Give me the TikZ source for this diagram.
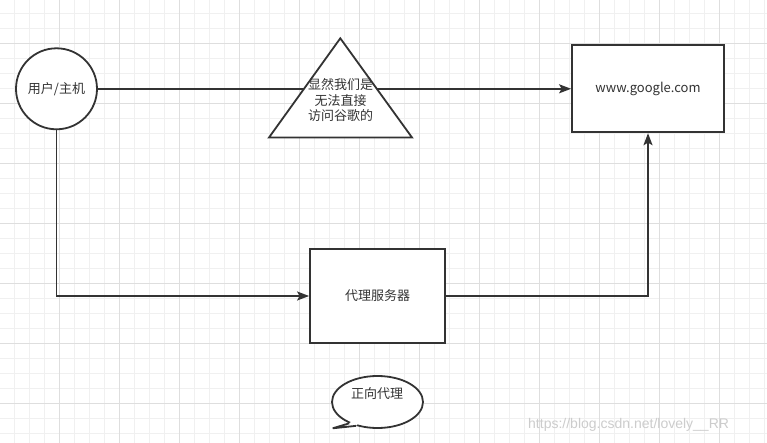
\documentclass[tikz,border=0pt]{standalone}
\usepackage{fontspec}
\setmainfont{Noto Sans CJK SC}
\newfontfamily\wmfont{Liberation Sans}
\usetikzlibrary{arrows.meta,shapes.geometric}
\definecolor{ink}{HTML}{333333}

\begin{document}
\begin{tikzpicture}[x=1pt,y=-1pt,
  font=\fontsize{13}{15.5}\selectfont,
  minorgrid/.style={draw=black!6,line width=0.8pt},
  majorgrid/.style={draw=black!13,line width=0.8pt},
  box/.style={draw=ink,fill=white,line width=1.8pt,text=ink,inner sep=0pt,align=center},
  outline/.style={draw=ink,fill=white,line width=1.8pt,line join=miter},
  flow/.style={-{Stealth[length=12pt,width=9pt,inset=2.5pt]},draw=ink,line width=1.6pt},
  lbl/.style={text=ink,align=center,inner sep=0pt}]
\useasboundingbox[fill=white] (0,0) rectangle (767,443);
\foreach \gx in {0,...,51} \draw[minorgrid] ({-0.7+15*\gx},0) -- ({-0.7+15*\gx},443);
\foreach \gy in {0,...,28} \draw[minorgrid] (0,{13.3+15*\gy}) -- (767,{13.3+15*\gy});
\foreach \gx in {0,...,11} \draw[majorgrid] ({59.3+60*\gx},0) -- ({59.3+60*\gx},443);
\foreach \gy in {0,...,6} \draw[majorgrid] (0,{43.3+60*\gy}) -- (767,{43.3+60*\gy});

\node[box,circle,minimum size=81pt] (user) at (56.5,88.8) {用户/主机};
\node[box,minimum width=152pt,minimum height=87pt] (google) at (648,88.8) {www.google.com};
\node[box,minimum width=135pt,minimum height=94pt] (proxy) at (377.5,296) {代理服务器};

\draw[flow] (user.east) -- (google.west);
\draw[flow] (user.south) |- (proxy.west);
\draw[flow] (proxy.east) -| (google.south);

\coordinate (apex) at (340.3,38.3);
\coordinate (baseL) at (269,137.5);
\coordinate (baseR) at (412,137.5);
\filldraw[outline] (apex) -- (baseL) -- (baseR) -- cycle;
\node[lbl] (blocked) at (340.5,100.5) {显然我们是\\无法直接\\访问谷歌的};

\node[box,ellipse,minimum width=91pt,minimum height=52pt] (bubble) at (377.5,402) {};
\coordinate (tip) at (332.7,428.3);
\fill[white] (bubble.217) -- (tip) -- (bubble.228) -- (bubble.center) -- cycle;
\draw[outline,fill=none] (bubble.217) -- (tip) -- (bubble.228);
\node[lbl] (bubbletext) at (377,393.5) {正向代理};

\node[text=black!20,font=\wmfont\fontsize{14}{14}\selectfont,anchor=west,inner sep=0pt] (watermark) at (528,425) {https://blog.csdn.net/lovely\_\_RR};
\end{tikzpicture}
\end{document}
